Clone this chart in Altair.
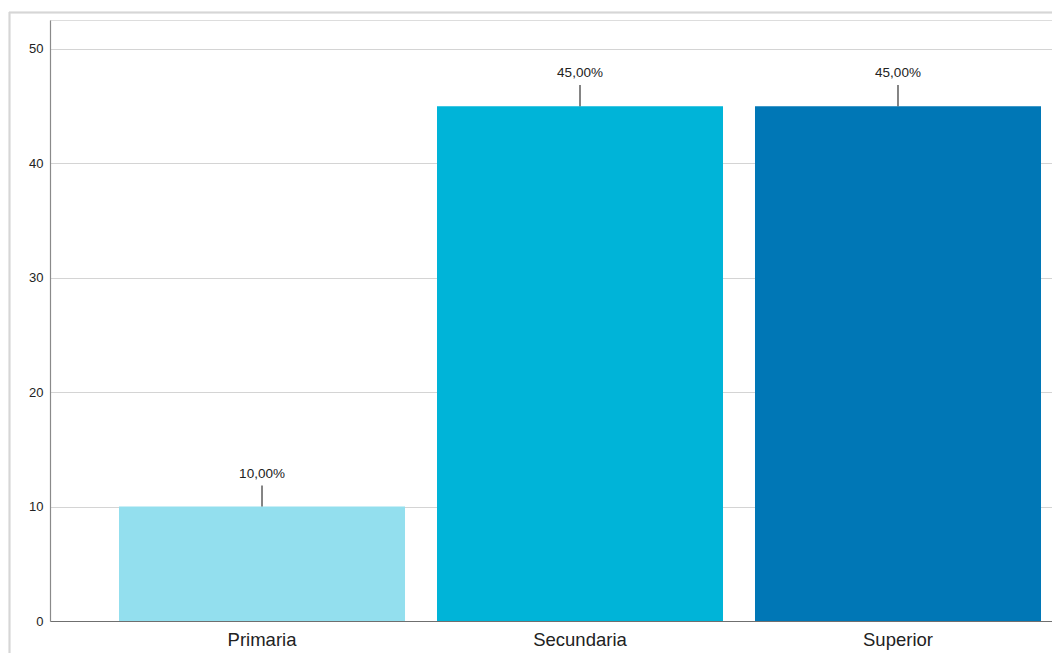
import altair as alt
import pandas as pd

categories = ["Primaria", "Secundaria", "Superior"]
values = [10.0, 45.0, 45.0]
colors = ["#93DFEE", "#00B4D8", "#0077B6"]

df = pd.DataFrame({"cat": categories, "val": values})

W = 1002
H = 601
YMAX = 52.53

x = alt.X("cat:N", sort=categories, title=None,
          scale=alt.Scale(paddingInner=0.1006, paddingOuter=0.1258, align=0.8625),
          axis=alt.Axis(labelAngle=0, ticks=False, labelFontSize=18.5, labelColor="#222222",
                        labelFont="Liberation Sans", labelPadding=9, domain=True,
                        domainColor="#6f6f6f", domainWidth=1.2, grid=False))
y = alt.Y("val:Q", title=None,
          scale=alt.Scale(domain=[0, YMAX], nice=False, zero=True),
          axis=alt.Axis(values=[0, 10, 20, 30, 40, 50], ticks=False, labelFontSize=13,
                        labelColor="#222222", labelFont="Liberation Sans", labelPadding=7,
                        domain=True, domainColor="#8a8a8a", domainWidth=1.2,
                        grid=True, gridColor="#d4d4d4", gridWidth=1))

base = alt.Chart(df)

bars = base.mark_bar().encode(
    x=x, y=y,
    color=alt.Color("cat:N", scale=alt.Scale(domain=categories, range=colors), legend=None),
)

leaders = base.transform_calculate(top="datum.val + 1.85").mark_rule(
    color="#333333", strokeWidth=1.2
).encode(x=alt.X("cat:N", sort=categories), y="val:Q", y2="top:Q")

labels = base.transform_calculate(
    lab="replace(format(datum.val, '.2f'), '.', ',') + '%'"
).mark_text(baseline="middle", dy=-33, fontSize=13.5, font="Liberation Sans", color="#222222").encode(
    x=alt.X("cat:N", sort=categories), y="val:Q", text="lab:N"
)

frame_top = alt.Chart(df).mark_rule(color="#d6d6d6", strokeWidth=1.5).encode(
    x=alt.value(-41), x2=alt.value(W + 20), y=alt.value(-7.5)
)
frame_left = alt.Chart(df).mark_rule(color="#d6d6d6", strokeWidth=1.5).encode(
    x=alt.value(-40.5), y=alt.value(-8), y2=alt.value(H + 60)
)

chart = alt.layer(frame_top, frame_left, bars, leaders, labels).properties(
    width=W, height=H,
    autosize=alt.AutoSizeParams(type="none"),
    padding={"left": 42, "top": 12, "right": 0, "bottom": 32},
).configure_view(stroke=None).configure(background="white")

chart.save("out.html", embed_options={"renderer": "svg", "actions": False})
